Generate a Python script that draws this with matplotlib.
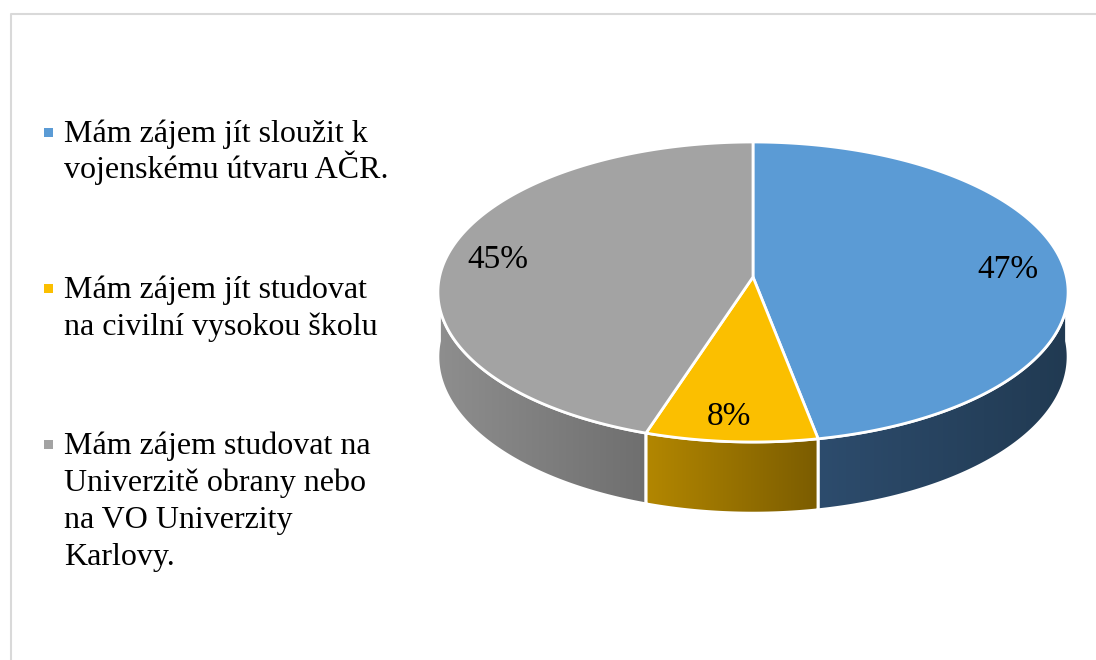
import numpy as np
import matplotlib
matplotlib.use("Agg")
import matplotlib.pyplot as plt
from matplotlib.patches import Polygon, Rectangle
from matplotlib.colors import LinearSegmentedColormap
from matplotlib.lines import Line2D

plt.rcParams['font.family'] = ['Liberation Serif', 'DejaVu Serif']

# data
legend_lines = [
    ["Mám zájem jít sloužit k", "vojenskému útvaru AČR."],
    ["Mám zájem jít studovat", "na civilní vysokou školu"],
    ["Mám zájem studovat na", "Univerzitě obrany nebo", "na VO Univerzity", "Karlovy."],
]
shares = [47, 8, 45]
top_colors = ["#5b9bd5", "#fbbf00", "#a3a3a3"]
side_colors = [("#2d4c6d", "#213a52"), ("#b38700", "#7b5c00"), ("#8e8e8e", "#6f6f6f")]

# pie geometry in pixels (simple perspective: front of the disc looks larger)
cx, cy, rx, ry, depth, persp = 753, 277, 313.5, 148.5, 64, 0.1


def rim(t, drop=0.0):
    t = np.radians(t)
    s = 1.0 / (1.0 + persp * np.sin(t))
    return cx + rx * np.cos(t) * s, cy - ry * np.sin(t) * s + drop * s


fig = plt.figure(figsize=(10.96, 6.6), dpi=100)
ax = fig.add_axes([0, 0, 1, 1])
ax.set_xlim(0, 1096)
ax.set_ylim(660, 0)
ax.axis("off")

# light frame
ax.add_line(Line2D([11, 11, 1096], [660, 14, 14], color="#d9d9d9", lw=1.5, zorder=0))

total = float(sum(shares))
angle = 90.0
bounds = []
for v in shares:
    end = angle - 360.0 * v / total
    bounds.append((angle, end))
    angle = end

# side walls (front half only)
for (a0, a1), (c0, c1) in zip(bounds, side_colors):
    hi, lo = a0 % 360, a1 % 360
    if hi <= lo:
        hi += 360
    lo_f = max(lo, 180)
    hi_f = min(hi, 360)
    if lo_f >= hi_f:
        continue
    ts = np.linspace(lo_f, hi_f, 120)
    xs, ys = rim(ts)
    xb, yb = rim(ts, depth)
    pts = np.vstack([np.column_stack([xs, ys]),
                     np.column_stack([xb[::-1], yb[::-1]])])
    poly = Polygon(pts, closed=True, facecolor="none", edgecolor="white", lw=2, zorder=2)
    ax.add_patch(poly)
    cmap = LinearSegmentedColormap.from_list("side", [c0, c1])
    grad = np.linspace(0, 1, 256).reshape(1, -1)
    im = ax.imshow(grad, cmap=cmap, aspect="auto", zorder=1,
                   extent=[pts[:, 0].min(), pts[:, 0].max(), pts[:, 1].max(), pts[:, 1].min()])
    im.set_clip_path(poly)

# top face
for (a0, a1), col in zip(bounds, top_colors):
    ts = np.linspace(a0, a1, 200)
    xs, ys = rim(ts)
    pts = np.vstack([[cx, cy], np.column_stack([xs, ys])])
    ax.add_patch(Polygon(pts, closed=True, facecolor=col, edgecolor="white", lw=2,
                         joinstyle="round", zorder=3))

# percentage labels
label_pos = [(1008, 278), (729, 425), (498, 268)]
for v, (x, y) in zip(shares, label_pos):
    ax.text(x, y, f"{v}%", fontsize=24, ha="center", va="baseline", color="black", zorder=5)

# legend
baselines = [[142, 178], [298, 335], [454, 491, 528, 565]]
for lines, ys, col in zip(legend_lines, baselines, top_colors):
    ax.add_patch(Rectangle((43.5, ys[0] - 14.5), 9.5, 9.5, facecolor=col, edgecolor="none", zorder=4))
    for line, y in zip(lines, ys):
        ax.text(64, y, line, fontsize=23, ha="left", va="baseline", color="black")

fig.savefig("out.png", dpi=100)
